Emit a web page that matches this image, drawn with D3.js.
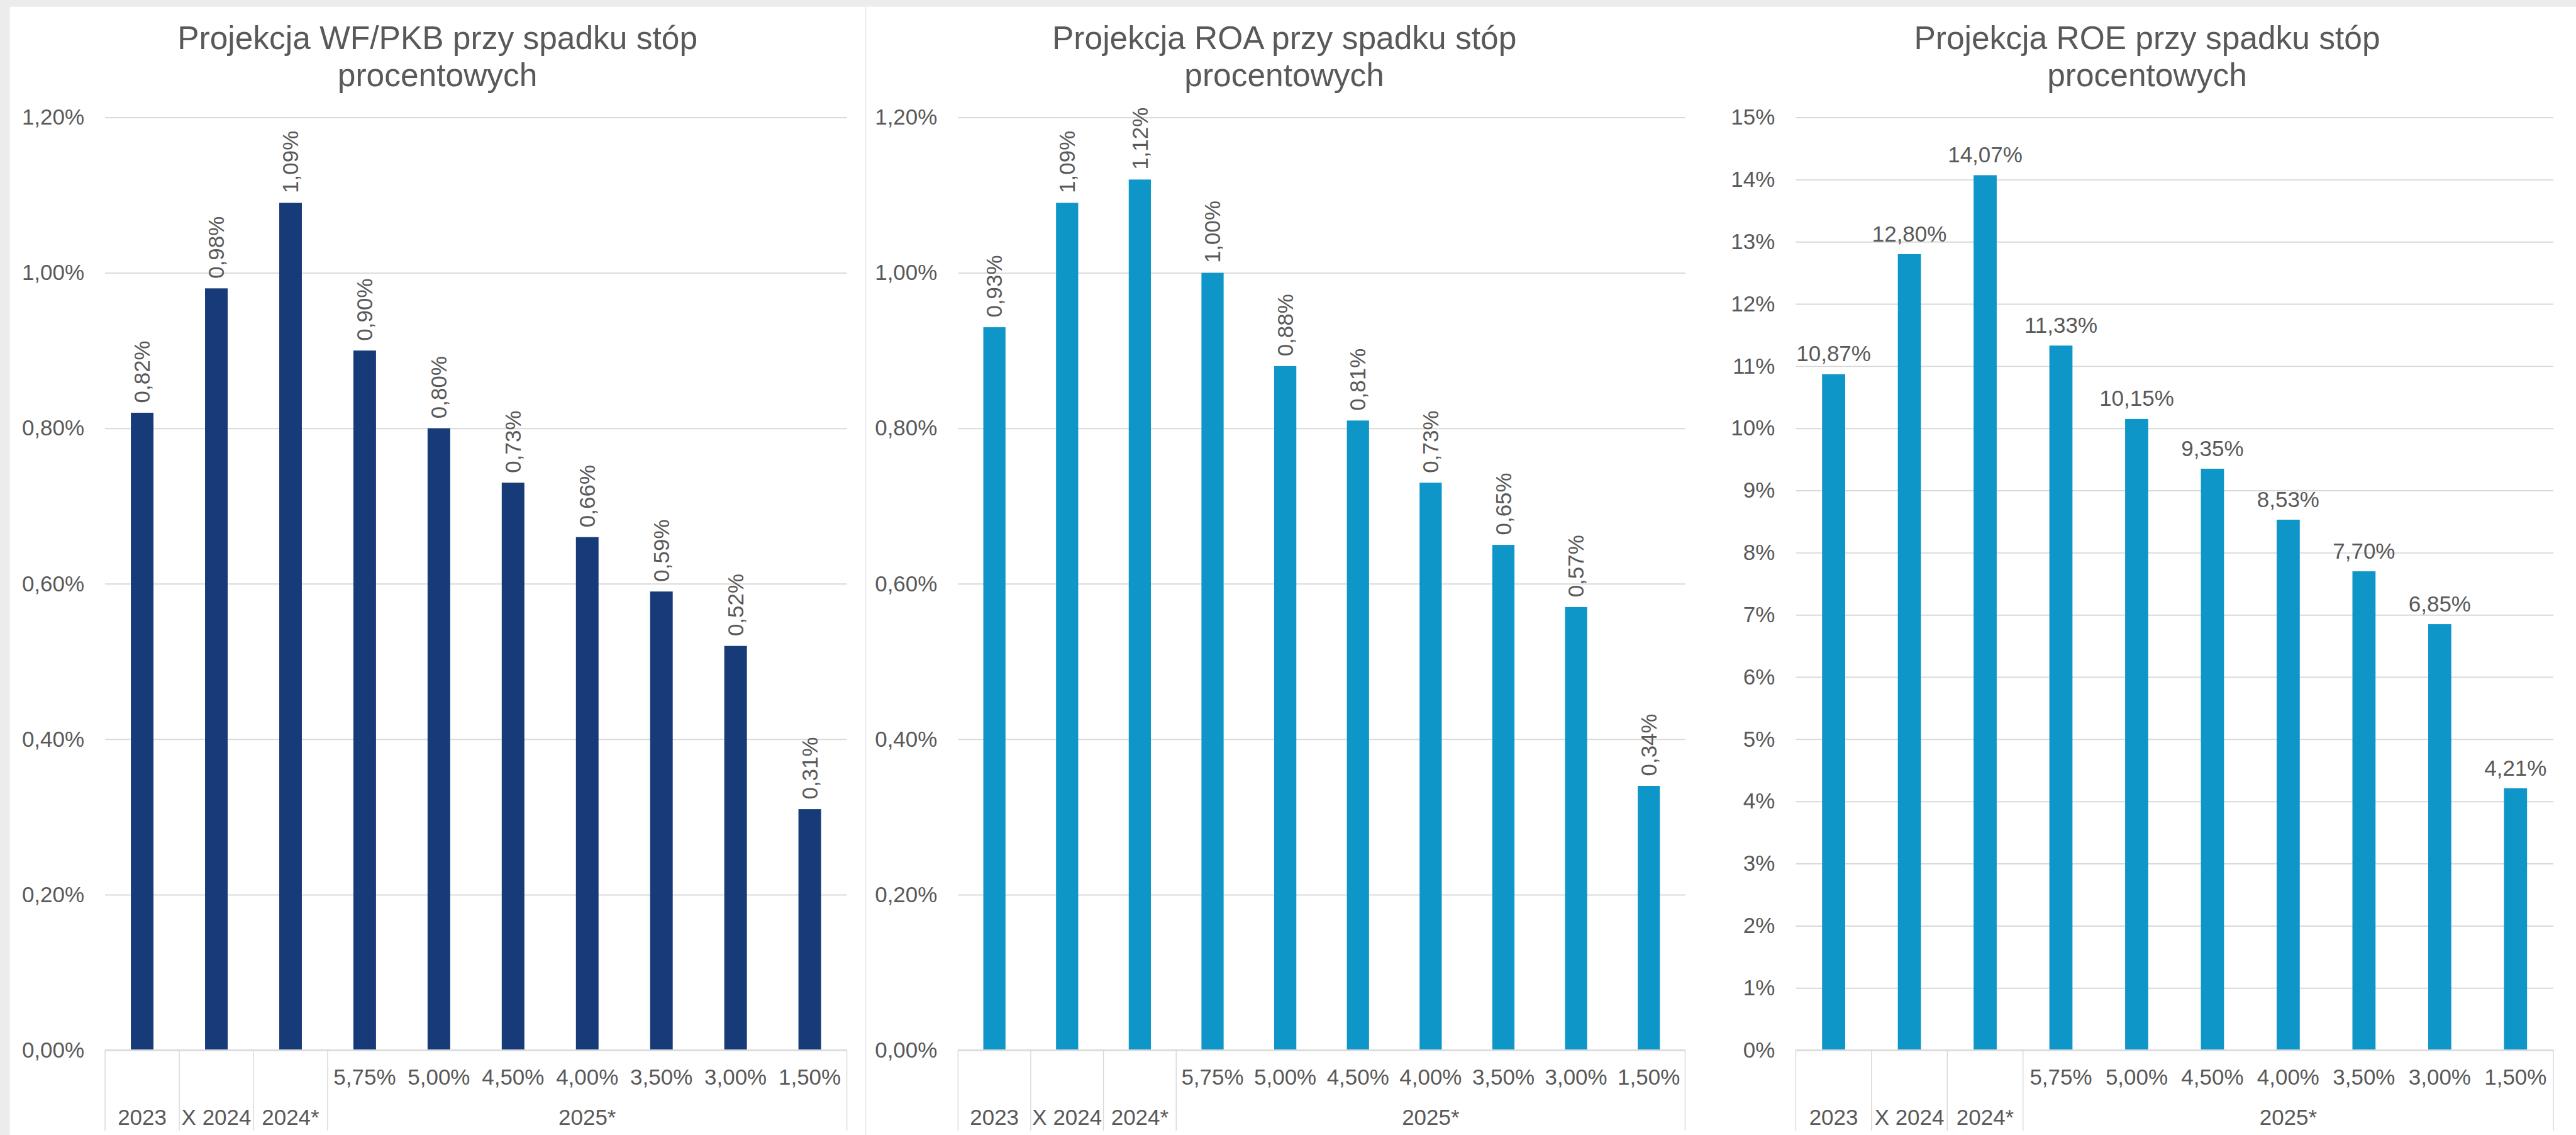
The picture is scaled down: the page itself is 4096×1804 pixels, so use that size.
<!DOCTYPE html>
<html>
<head>
<meta charset="utf-8">
<script src="https://cdn.jsdelivr.net/npm/d3@7"></script>
<style>
  html, body { margin: 0; padding: 0; background: #ececec; overflow: hidden; }
  text { font-family: "Liberation Sans", Arial, sans-serif; fill: #595959; }
</style>
</head>
<body>
<div id="chart"></div>
<script>
// data
var innerLabels = ["", "", "", "5,75%", "5,00%", "4,50%", "4,00%", "3,50%", "3,00%", "1,50%"];
var outerGroups = ["2023", "X 2024", "2024*", "2025*"];
var groupSizes = [1, 1, 1, 7];

var wfPkb = [0.82, 0.98, 1.09, 0.90, 0.80, 0.73, 0.66, 0.59, 0.52, 0.31];
var roa = [0.93, 1.09, 1.12, 1.00, 0.88, 0.81, 0.73, 0.65, 0.57, 0.34];
var roe = [10.87, 12.80, 14.07, 11.33, 10.15, 9.35, 8.53, 7.70, 6.85, 4.21];

var ticksSmall = [0, 0.2, 0.4, 0.6, 0.8, 1.0, 1.2];
var ticksRoe = d3.range(0, 16);

// the reference is 4216 x 1857, we draw at 0.971
var refW = 4216, refH = 1857;
var svgWidth = 4096, svgHeight = 1804;
var k = svgWidth / refW;

var pl = d3.formatLocale({decimal: ",", thousands: " ", grouping: [3], currency: ["", " zł"]});
var f2 = pl.format(".2f");

var svg = d3.select("#chart")
  .append("svg")
  .attr("width", svgWidth)
  .attr("height", svgHeight);

var root = svg.append("g").attr("transform", `scale(${k})`);

// grey frame and white chart area
root.append("rect").attr("width", refW).attr("height", refH).attr("fill", "#ececec");
root.append("rect").attr("x", 16).attr("y", 11)
  .attr("width", refW - 16).attr("height", refH - 11).attr("fill", "#ffffff");
root.append("line")
  .attr("x1", 1417).attr("x2", 1417).attr("y1", 11).attr("y2", refH)
  .attr("stroke", "#e6e6e6").attr("stroke-width", 1.5);

var y0 = 1718, yTop = 192;

var panels = [
  {title: ["Projekcja WF/PKB przy spadku stóp", "procentowych"], values: wfPkb, color: "#173a79",
   max: 1.2, ticks: ticksSmall, fmt: d => f2(d) + "%", rotated: true, titleX: 716, x0: 172, x1: 1386},
  {title: ["Projekcja ROA przy spadku stóp", "procentowych"], values: roa, color: "#0f96c9",
   max: 1.2, ticks: ticksSmall, fmt: d => f2(d) + "%", rotated: true, titleX: 2102, x0: 1568, x1: 2758},
  {title: ["Projekcja ROE przy spadku stóp", "procentowych"], values: roe, color: "#0f96c9",
   max: 15, ticks: ticksRoe, fmt: d => d + "%", rotated: false, titleX: 3514, x0: 2939, x1: 4179}
];

panels.forEach(function(p) {
  var g = root.append("g");

  // title, two lines
  g.append("text")
    .attr("x", p.titleX)
    .attr("text-anchor", "middle")
    .attr("font-size", "53px")
    .selectAll("tspan")
    .data(p.title)
    .enter()
    .append("tspan")
    .attr("x", p.titleX)
    .attr("y", (d, i) => 80 + i * 61)
    .text(d => d);

  var yScale = d3.scaleLinear().domain([0, p.max]).range([y0, yTop]);
  var xScale = d3.scaleBand().domain(d3.range(p.values.length)).range([p.x0, p.x1]);

  // gridlines + y labels
  var yAxis = d3.axisLeft(yScale)
    .tickValues(p.ticks)
    .tickSize(-(p.x1 - p.x0))
    .tickPadding(34)
    .tickFormat(p.fmt);

  var ya = g.append("g")
    .attr("transform", `translate(${p.x0},0)`)
    .call(yAxis);
  ya.select(".domain").remove();
  ya.selectAll(".tick line").attr("stroke", "#d9d9d9").attr("stroke-width", 2);
  ya.selectAll(".tick text")
    .attr("font-size", "36px")
    .attr("font-family", "Liberation Sans, Arial, sans-serif")
    .attr("fill", "#595959");

  // bars
  var bw = xScale.bandwidth() * 0.305;
  g.selectAll(".bar")
    .data(p.values)
    .enter()
    .append("rect")
    .attr("class", "bar")
    .attr("x", (d, i) => xScale(i) + (xScale.bandwidth() - bw) / 2)
    .attr("y", d => yScale(d))
    .attr("width", bw)
    .attr("height", d => y0 - yScale(d))
    .attr("fill", p.color);

  // value labels
  var labels = g.selectAll(".vlab")
    .data(p.values)
    .enter()
    .append("text")
    .attr("class", "vlab")
    .attr("font-size", "36px")
    .text(d => f2(d) + "%");

  if (p.rotated) {
    labels
      .attr("text-anchor", "start")
      .attr("dy", "0.35em")
      .attr("transform", (d, i) =>
        `translate(${xScale(i) + xScale.bandwidth() / 2},${yScale(d) - 16}) rotate(-90)`);
  } else {
    labels
      .attr("text-anchor", "middle")
      .attr("x", (d, i) => xScale(i) + xScale.bandwidth() / 2)
      .attr("y", d => yScale(d) - 21);
  }

  // baseline
  g.append("line")
    .attr("x1", p.x0).attr("x2", p.x1)
    .attr("y1", y0).attr("y2", y0)
    .attr("stroke", "#d9d9d9").attr("stroke-width", 2.5);

  // multi-level category axis
  var bounds = [0];
  groupSizes.forEach(n => bounds.push(bounds[bounds.length - 1] + n));
  var bx = i => (i >= p.values.length ? p.x1 : xScale(i));

  g.selectAll(".sep")
    .data(bounds)
    .enter()
    .append("line")
    .attr("x1", d => bx(d)).attr("x2", d => bx(d))
    .attr("y1", y0).attr("y2", 1850)
    .attr("stroke", "#d9d9d9").attr("stroke-width", 1.5);

  g.selectAll(".inner")
    .data(innerLabels)
    .enter()
    .append("text")
    .attr("x", (d, i) => xScale(i) + xScale.bandwidth() / 2)
    .attr("y", 1775)
    .attr("text-anchor", "middle")
    .attr("font-size", "36px")
    .text(d => d);

  g.selectAll(".outer")
    .data(outerGroups)
    .enter()
    .append("text")
    .attr("x", (d, i) => (bx(bounds[i]) + bx(bounds[i + 1])) / 2)
    .attr("y", 1840)
    .attr("text-anchor", "middle")
    .attr("font-size", "36px")
    .text(d => d);
});
</script>
</body>
</html>
